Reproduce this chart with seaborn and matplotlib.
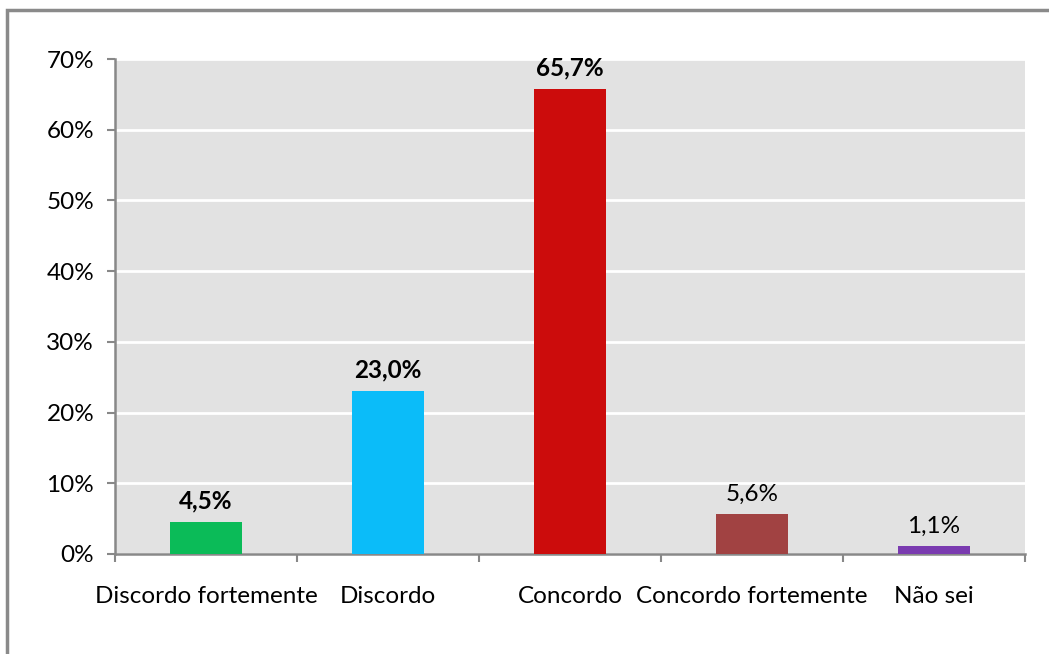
import matplotlib
matplotlib.use("Agg")
import matplotlib.pyplot as plt
import seaborn as sns
import pandas as pd
from matplotlib.patches import Rectangle
from matplotlib.ticker import FuncFormatter, MultipleLocator

categories = ["Discordo fortemente", "Discordo", "Concordo", "Concordo fortemente", "Não sei"]
values = [4.5, 23.0, 65.7, 5.6, 1.1]
colors = ["#0bbb58", "#0bbcf9", "#cc0c0c", "#a14242", "#7a3bb0"]
label_weights = ["bold", "bold", "bold", "normal", "normal"]

sns.set_theme(style="white")
plt.rcParams["font.family"] = ["Lato", "DejaVu Sans"]

df = pd.DataFrame({"categoria": categories, "valor": values})

fig = plt.figure(figsize=(10.49, 6.54), dpi=100)
W, H = 1049, 654
ax = fig.add_axes([115 / W, 1 - 554 / H, (1025 - 115) / W, (554 - 59) / H])
ax.set_facecolor("#e2e2e2")

sns.barplot(data=df, x="categoria", y="valor", hue="categoria",
            palette=colors, legend=False, width=0.4, saturation=1,
            linewidth=0, ax=ax, zorder=3)

ax.set_ylim(0, 70)
ax.set_xlim(-0.5, len(categories) - 0.5)
ax.yaxis.set_major_locator(MultipleLocator(10))
ax.yaxis.set_major_formatter(FuncFormatter(lambda v, _: f"{v:.0f}%"))
ax.grid(axis="y", color="white", linewidth=2, zorder=1)
ax.set_axisbelow(True)
ax.set_xlabel("")
ax.set_ylabel("")

fs = 17.5

# category boundaries carry the x ticks; names sit in the middle of each slot
ax.set_xticks([i - 0.5 for i in range(len(categories) + 1)])
ax.set_xticklabels([])
ax.set_xticks(range(len(categories)), minor=True)
ax.set_xticklabels(categories, minor=True, fontsize=fs, color="black")
ax.tick_params(axis="x", which="minor", length=0, pad=23)
ax.tick_params(axis="x", which="major", length=6, width=1.5, color="#888888", direction="out")
ax.tick_params(axis="y", length=6, width=1.5, color="#888888", direction="out",
               labelsize=fs, labelcolor="black", pad=9)
ax.tick_params(bottom=True, left=True, which="major")

for s in ["top", "right"]:
    ax.spines[s].set_visible(False)
for s in ["left", "bottom"]:
    ax.spines[s].set_color("#888888")
    ax.spines[s].set_linewidth(1.8)

for i, (v, w) in enumerate(zip(values, label_weights)):
    ax.annotate(f"{v:.1f}%".replace(".", ","), (i, v), xytext=(0, 7),
                textcoords="offset points", ha="center", va="bottom",
                fontsize=fs, fontweight=w, color="black", zorder=4)

# outer frame of the chart area
fig.patches.append(Rectangle((7 / W, -0.05), 1.1, 1 - 10 / H + 0.05,
                             transform=fig.transFigure, fill=False,
                             edgecolor="#8a8a8a", linewidth=2.5))

fig.savefig("out.png", dpi=100, facecolor="white")
